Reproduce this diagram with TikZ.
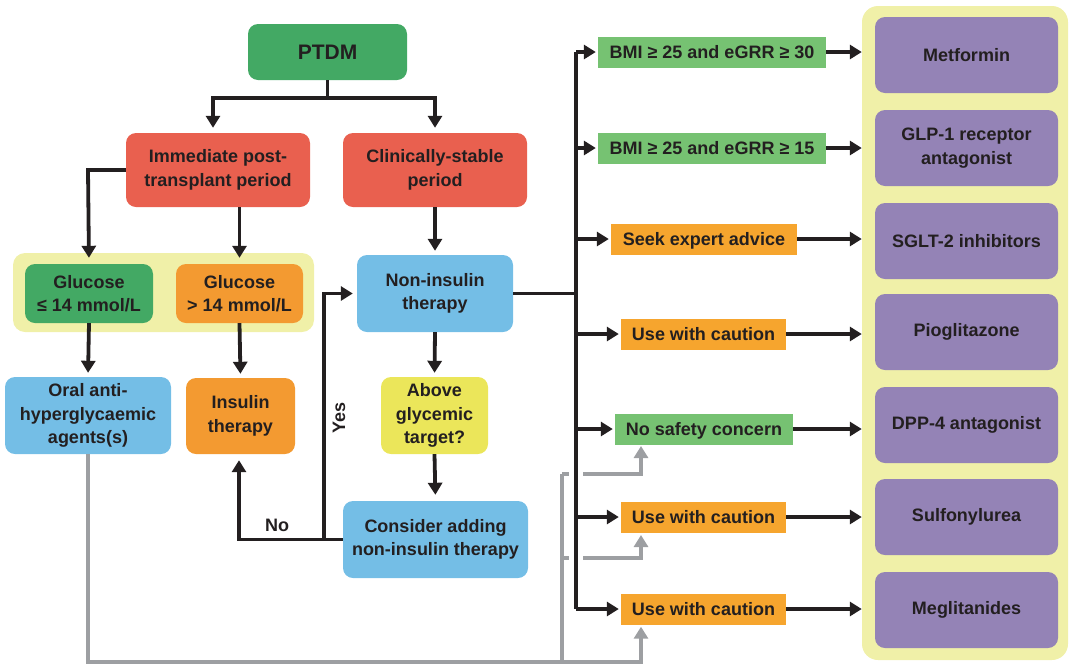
\documentclass[tikz,border=0pt]{standalone}
\usepackage{fontspec}
\setmainfont{Liberation Sans}
\usetikzlibrary{arrows.meta,calc}
\definecolor{txt}{RGB}{35,31,32}
\definecolor{dgreen}{RGB}{67,169,100}
\definecolor{lgreen}{RGB}{118,194,114}
\definecolor{redb}{RGB}{233,96,79}
\definecolor{blueb}{RGB}{116,190,230}
\definecolor{orangeb}{RGB}{243,154,49}
\definecolor{orangel}{RGB}{246,165,46}
\definecolor{yellowb}{RGB}{235,230,90}
\definecolor{panel}{RGB}{240,240,168}
\definecolor{purpleb}{RGB}{148,131,182}
\definecolor{grayl}{RGB}{157,159,162}
\tikzset{
  box/.style={rounded corners=10pt, draw=none, align=center, inner sep=0pt,
    text=txt, font=\fontsize{18}{23.5}\selectfont\bfseries},
  lab/.style={draw=none, inner sep=0pt, text=txt, text height=13pt, text depth=0pt,
    font=\fontsize{18}{23.5}\selectfont\bfseries, minimum height=31pt},
  blk/.style={draw=txt, line width=3.8pt},
  arr/.style={blk, -{Triangle[length=12pt,width=14pt]}, shorten >=4pt},
  garr/.style={draw=grayl, line width=3.4pt, -{Triangle[length=12pt,width=14pt]}, shorten >=2pt},
  gln/.style={draw=grayl, line width=3.4pt},
  purp/.style={box, fill=purpleb, minimum width=183pt, minimum height=76pt},
}
\begin{document}
\begin{tikzpicture}[x=1pt,y=-1pt]
\useasboundingbox (0,0) rectangle (1069,665);
% right panel
\node[fill=panel, rounded corners=16pt, minimum width=206pt, minimum height=654pt, inner sep=0pt] (panel) at (965,333) {};
% boxes
\node[box, fill=dgreen, minimum width=159pt, minimum height=56pt, font=\fontsize{21}{25}\selectfont\bfseries] (ptdm) at (327.5,52) {PTDM};
\node[box, fill=redb, minimum width=184pt, minimum height=74pt] (imm) at (218,170) {Immediate post-\\transplant period};
\node[box, fill=redb, minimum width=184pt, minimum height=74pt] (clin) at (435,170) {Clinically-stable\\period};
\node[fill=panel, rounded corners=12pt, minimum width=301pt, minimum height=79pt, inner sep=0pt] (grp) at (163.5,292.5) {};
\node[box, fill=dgreen, minimum width=128pt, minimum height=59pt] (gle) at (89,293.5) {Glucose\\≤ 14 mmol/L};
\node[box, fill=orangeb, minimum width=127pt, minimum height=59pt] (ggt) at (239.5,293.5) {Glucose\\> 14 mmol/L};
\node[box, fill=blueb, minimum width=166pt, minimum height=77pt] (oral) at (88,415.5) {Oral anti-\\hyperglycaemic\\agents(s)};
\node[box, fill=orangeb, minimum width=109pt, minimum height=76pt] (ins) at (240.5,416) {Insulin\\therapy};
\node[box, fill=blueb, minimum width=156pt, minimum height=77pt] (noni) at (435,293.5) {Non-insulin\\therapy};
\node[box, fill=yellowb, minimum width=107pt, minimum height=77pt] (above) at (434.5,415.5) {Above\\glycemic\\target?};
\node[box, fill=blueb, minimum width=185pt, minimum height=77pt] (cons) at (435.5,539.5) {Consider adding\\non-insulin therapy};
% labels
\node[lab, fill=lgreen, minimum width=228pt] (l1) at (712,52) {BMI ≥ 25 and eGRR ≥ 30};
\node[lab, fill=lgreen, minimum width=228pt] (l2) at (712,148) {BMI ≥ 25 and eGRR ≥ 15};
\node[lab, fill=orangel, minimum width=186pt] (l3) at (704,239) {Seek expert advice};
\node[lab, fill=orangel, minimum width=165pt] (l4) at (703.5,334) {Use with caution};
\node[lab, fill=lgreen, minimum width=178pt] (l5) at (704,429) {No safety concern};
\node[lab, fill=orangel, minimum width=165pt] (l6) at (703.5,517) {Use with caution};
\node[lab, fill=orangel, minimum width=165pt] (l7) at (703.5,609) {Use with caution};
% purple
\node[purp] (p1) at (966.5,55) {Metformin};
\node[purp] (p2) at (966.5,148) {GLP-1 receptor\\antagonist};
\node[purp] (p3) at (966.5,241) {SGLT-2 inhibitors};
\node[purp] (p4) at (966.5,332) {Pioglitazone};
\node[purp] (p5) at (966.5,425) {DPP-4 antagonist};
\node[purp] (p6) at (966.5,517) {Sulfonylurea};
\node[purp] (p7) at (966.5,610) {Meglitanides};
% PTDM split
\coordinate (pj) at (327.5,98);
\coordinate (pl) at (213,98);
\coordinate (pr) at (435,98);
\draw[blk] (ptdm.south) -- (pj);
\draw[arr, shorten >=5pt] (pj) -- (pl) -- (pl |- imm.north);
\draw[arr, shorten >=5pt] (pj) -- (pr) -- (clin.north);
% immediate
\coordinate (il) at (88,170);
\draw[arr, shorten >=6pt] (imm.west |- il) -- (il) -- (gle.north);
\draw[arr, shorten >=6pt] (imm.south -| ggt.north) -- (ggt.north);
\draw[arr] (gle.south) -- (oral.north);
\draw[arr] (ggt.south) -- (ins.north);
% clinically stable
\draw[arr] (clin.south) -- (noni.north);
\draw[arr] (noni.south) -- (above.north);
\draw[arr, shorten >=6pt] (above.south) -- (cons.north);
% feedback
\coordinate (fy) at (324,539.5);
\coordinate (fn) at (239,539.5);
\coordinate (fu) at (324,293.5);
\draw[arr, shorten >=6pt] (cons.west) -- (fn) -- (ins.south -| fn);
\draw[arr] (fy) -- (fu) -- (noni.west);
\node[text=txt, font=\fontsize{18}{20}\selectfont\bfseries] (no) at (277,525) {No};
\node[text=txt, font=\fontsize{18}{20}\selectfont\bfseries, rotate=90] (yes) at (339,418) {Yes};
% gray lines
\coordinate (gb) at (641,662);
\coordinate (gv) at (562,662);
\coordinate (g5) at (562,474);
\coordinate (g6) at (562,558);
\draw[garr] (oral.south) -- (88,662) -- (gb) -- (gb |- l7.south);
\draw[gln] (gv) -- (g5);
\draw[garr] (g5) -- (641,474) -- (641,444);
\draw[garr] (g6) -- (641,558) -- (641,533);
% bus
\coordinate (bt) at (576,52);
\coordinate (bb) at (576,609);
\coordinate (bj) at (576,293.5);
\draw[blk, preaction={draw=white, line width=14pt, line cap=butt}] (bt) -- (bb);
\draw[blk] (noni.east) -- (bj);
\draw[arr, shorten >=2pt] (bt) -- (l1.west);
\draw[arr, shorten >=2pt] (576,148) -- (l2.west);
\draw[arr, shorten >=2pt] (576,239) -- (l3.west);
\draw[arr, shorten >=2pt] (576,334) -- (l4.west);
\draw[arr, shorten >=2pt] (576,429) -- (l5.west);
\draw[arr, shorten >=2pt] (576,517) -- (l6.west);
\draw[arr, shorten >=2pt] (bb) -- (l7.west);
% to purple
\draw[arr, shorten >=0pt] (l1.east) -- (l1.east -| panel.west);
\draw[arr, shorten >=0pt] (l2.east) -- (l2.east -| panel.west);
\draw[arr, shorten >=0pt] (l3.east) -- (l3.east -| panel.west);
\draw[arr, shorten >=0pt] (l4.east) -- (l4.east -| panel.west);
\draw[arr, shorten >=0pt] (l5.east) -- (l5.east -| panel.west);
\draw[arr, shorten >=0pt] (l6.east) -- (l6.east -| panel.west);
\draw[arr, shorten >=0pt] (l7.east) -- (l7.east -| panel.west);
\end{tikzpicture}
\end{document}
